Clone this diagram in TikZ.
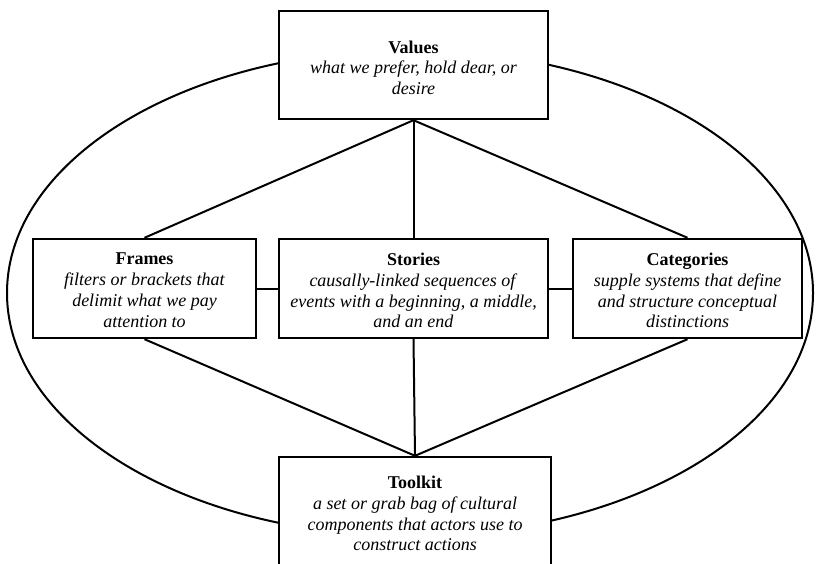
\documentclass[tikz,border=0pt]{standalone}
\usepackage{fontspec}
\setmainfont{Liberation Serif}
\begin{document}
\begin{tikzpicture}[x=1pt,y=-1pt,
  box/.style={draw, line width=2.4pt, fill=white, inner sep=0pt},
  link/.style={line width=2pt},
  txt/.style={anchor=north, inner sep=0pt, align=center, font=\fontsize{18}{20.7}\selectfont}]
\useasboundingbox (0,0) rectangle (818,564);
\clip (0,0) rectangle (818,564);
\draw[link] (410,293) ellipse [x radius=403, y radius=243];
\node[box, minimum width=269pt, minimum height=108pt] (values) at (413.5,65) {};
\node[box, minimum width=223pt, minimum height=99pt] (frames) at (144.5,288.5) {};
\node[box, minimum width=269pt, minimum height=99pt] (stories) at (413.5,288.5) {};
\node[box, minimum width=229pt, minimum height=99pt] (categories) at (687.5,288.5) {};
\node[box, minimum width=272pt, minimum height=126pt] (toolkit) at (415,520) {};
\draw[link] (values.south) -- (frames.north);
\draw[link] (values.south) -- (stories.north);
\draw[link] (values.south) -- (categories.north);
\draw[link] (frames.south) -- (toolkit.north);
\draw[link] (stories.south) -- (toolkit.north);
\draw[link] (categories.south) -- (toolkit.north);
\draw[link] (frames.east) -- (stories.west);
\draw[link] (stories.east) -- (categories.west);
\node[txt] (valuesT) at (413.5,40.5) {\textbf{Values}\\\textit{what we prefer, hold dear, or}\\\textit{desire}};
\node[txt] (framesT) at (144.5,253) {\textbf{Frames}\\\textit{filters or brackets that}\\\textit{delimit what we pay}\\\textit{attention to}};
\node[txt] (storiesT) at (413.5,253) {\textbf{Stories}\\\textit{causally-linked sequences of}\\\textit{events with a beginning, a middle,}\\\textit{and an end}};
\node[txt] (categoriesT) at (687.5,253) {\textbf{Categories}\\\textit{supple systems that define}\\\textit{and structure conceptual}\\\textit{distinctions}};
\node[txt] (toolkitT) at (415,476) {\textbf{Toolkit}\\\textit{a set or grab bag of cultural}\\\textit{components that actors use to}\\\textit{construct actions}};
\end{tikzpicture}
\end{document}
